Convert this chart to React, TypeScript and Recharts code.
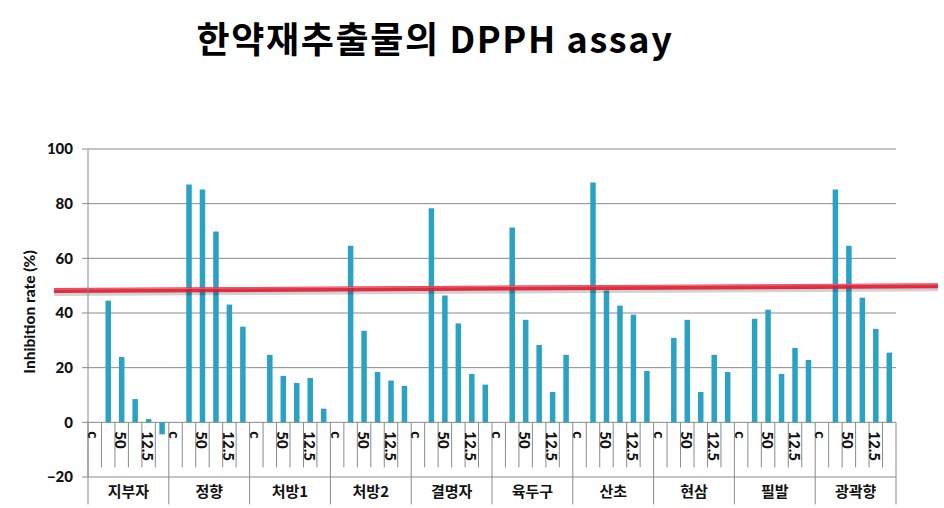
import React from 'react';
import { BarChart, Bar, XAxis, YAxis, CartesianGrid, ReferenceLine } from 'recharts';

const groups = ['지부자', '정향', '처방1', '처방2', '결명자', '육두구', '산초', '현삼', '필발', '광곽향'];
const subLabels = ['c', '', '50', '', '12.5', ''];

const v지부자 = [null, 44.5, 23.9, 8.5, 1.2, -4.4];
const v정향 = [null, 87.0, 85.2, 69.8, 43.1, 35.0];
const v처방1 = [null, 24.7, 17.0, 14.4, 16.2, 5.0];
const v처방2 = [null, 64.6, 33.5, 18.4, 15.3, 13.3];
const v결명자 = [null, 78.3, 46.4, 36.2, 17.7, 13.8];
const v육두구 = [null, 71.3, 37.5, 28.3, 11.1, 24.7];
const v산초 = [null, 87.7, 48.2, 42.7, 39.4, 18.8];
const v현삼 = [null, 30.9, 37.5, 11.1, 24.7, 18.4];
const v필발 = [null, 37.9, 41.2, 17.7, 27.2, 22.8];
const v광곽향 = [null, 85.2, 64.6, 45.6, 34.2, 25.5];

const groupValues = [v지부자, v정향, v처방1, v처방2, v결명자, v육두구, v산초, v현삼, v필발, v광곽향];

const yTicks = [-20, 0, 20, 40, 60, 80, 100];
const thresholdValue = 49.05;

const data = groups.flatMap((g, gi) =>
  subLabels.map((s, si) => ({
    key: `${g}-${si}`,
    group: g,
    sub: s,
    value: groupValues[gi][si],
  }))
);

const CHART_W = 944;
const CHART_H = 508;
const MARGIN = { top: 149, right: 48, bottom: 0, left: 0 };
const Y_AXIS_W = 88;
const X_AXIS_H = 31;
const PLOT_W = CHART_W - MARGIN.left - MARGIN.right - Y_AXIS_W;
const PLOT_H = CHART_H - MARGIN.top - MARGIN.bottom - X_AXIS_H;
const SLOT = PLOT_W / data.length;
const ZERO_UP = (PLOT_H * (0 - yTicks[0])) / (yTicks[yTicks.length - 1] - yTicks[0]);
const PER_GROUP = subLabels.length;

const GRID = '#8a8a8a';
const BAR = '#2ba2c3';

const CategoryTick = (props: any) => {
  const { x, y, payload } = props;
  const i = payload && typeof payload.index === 'number' ? payload.index : props.index;
  const d = data[i];
  if (!d) return null;
  const zeroY = y - ZERO_UP;
  const si = i % PER_GROUP;
  const left = x - SLOT / 2;
  const isGroupStart = si === 0;
  const isLast = i === data.length - 1;
  return (
    <g>
      <line x1={left} x2={left} y1={zeroY} y2={isGroupStart ? zeroY + 82 : zeroY + 45} stroke={GRID} strokeWidth={1} />
      {isLast && (
        <line x1={x + SLOT / 2} x2={x + SLOT / 2} y1={zeroY} y2={zeroY + 82} stroke={GRID} strokeWidth={1} />
      )}
      {d.sub && (
        <text
          x={x - 6.5}
          y={zeroY + 9}
          transform={`rotate(90, ${x - 6.5}, ${zeroY + 9})`}
          textAnchor="start"
          fontFamily="Lato, 'Noto Sans', sans-serif"
          fontWeight={900}
          fontSize={15}
          fill="#111"
        >
          {d.sub}
        </text>
      )}
      {isGroupStart && (
        <text
          x={left + (SLOT * PER_GROUP) / 2}
          y={y + 20}
          textAnchor="middle"
          fontFamily="'Noto Sans CJK KR', sans-serif"
          fontWeight={700}
          fontSize={15}
          fill="#111"
        >
          {d.group}
        </text>
      )}
    </g>
  );
};

const RedLine = (p: any) => {
  const x1 = p.x1 - 34;
  const x2 = p.x2 + 42;
  const y1 = p.y1 + 2.3;
  const y2 = p.y2 - 2.6;
  return (
    <g>
      <line x1={x1} y1={y1 + 3.5} x2={x2} y2={y2 + 3.5} stroke="#000" strokeOpacity={0.18} strokeWidth={4} />
      <line x1={x1} y1={y1} x2={x2} y2={y2} stroke="#e0162b" strokeOpacity={0.9} strokeWidth={5} />
      <line x1={x1} y1={y1 - 1.5} x2={x2} y2={y2 - 1.5} stroke="#f58a96" strokeOpacity={0.7} strokeWidth={1} />
    </g>
  );
};

export default function App() {
  return (
    <div style={{ position: 'absolute', left: 0, top: 0, width: CHART_W, height: CHART_H, background: '#fff' }}>
      <BarChart width={CHART_W} height={CHART_H} data={data} margin={MARGIN} barSize={5.5}>
        <CartesianGrid horizontal vertical={false} stroke={GRID} strokeWidth={1} />
        <XAxis
          dataKey="key"
          interval={0}
          height={X_AXIS_H}
          axisLine={false}
          tickLine={false}
          tickSize={0}
          tickMargin={0}
          tick={<CategoryTick />}
        />
        <YAxis
          width={Y_AXIS_W}
          domain={[yTicks[0], yTicks[yTicks.length - 1]]}
          ticks={yTicks}
          interval={0}
          axisLine={{ stroke: GRID }}
          tickLine={{ stroke: GRID }}
          tickSize={6}
          tickMargin={9}
          tick={{ fontFamily: "Lato, 'Noto Sans', sans-serif", fontWeight: 900, fontSize: 15, fill: '#111' }}
          tickFormatter={(v: number) => (v < 0 ? `\u2212${Math.abs(v)}` : `${v}`)}
        />
        <Bar dataKey="value" fill={BAR} isAnimationActive={false} />
        <ReferenceLine y={thresholdValue} shape={<RedLine />} ifOverflow="visible" />
      </BarChart>
      <svg width={CHART_W} height={CHART_H} style={{ position: 'absolute', left: 0, top: 0, pointerEvents: 'none' }}>
        <text
          x={435}
          y={53}
          textAnchor="middle"
          fontFamily="'Noto Sans CJK KR', sans-serif"
          fontWeight={700}
          fontSize={36}
          letterSpacing={1.6}
          fill="#000"
        >
          한약재추출물의 DPPH assay
        </text>
        <text
          x={29}
          y={312}
          transform="rotate(-90, 29, 312)"
          textAnchor="middle"
          dominantBaseline="central"
          fontFamily="Lato, 'Noto Sans', sans-serif"
          fontWeight={900}
          fontSize={15.5}
          fill="#111"
        >
          Inhibition rate (%)
        </text>
      </svg>
    </div>
  );
}
